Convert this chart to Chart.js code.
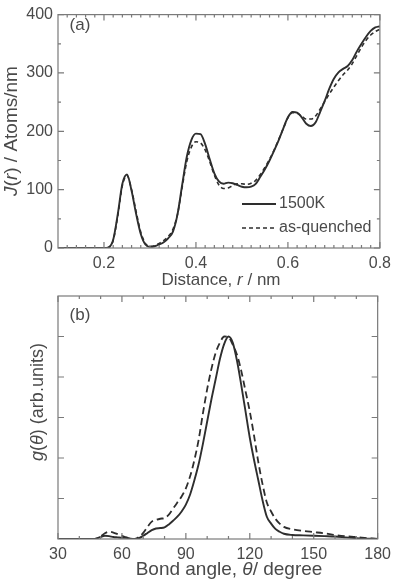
<!DOCTYPE html>
<html>
<head>
<meta charset="utf-8">
<script src="https://cdn.jsdelivr.net/npm/chart.js@4.4.1/dist/chart.umd.min.js"></script>
<style>
body { margin: 0; background: #fff; width: 397px; height: 581px; overflow: hidden; position: relative; }
#wa { position: absolute; left: 0; top: 0; width: 397px; height: 290px; }
#wb { position: absolute; left: 0; top: 290px; width: 397px; height: 291px; }
</style>
</head>
<body>
<div id="wa"><canvas id="ga"></canvas></div>
<div id="wb"><canvas id="gb"></canvas></div>
<script>
// panel (a): J(r)
const rVals = [0.10, 0.15, 0.20, 0.21, 0.22, 0.23, 0.24, 0.25, 0.26, 0.27, 0.28, 0.29, 0.30,
  0.31, 0.32, 0.33, 0.34, 0.35, 0.36, 0.37, 0.38, 0.39, 0.40, 0.41, 0.42, 0.43, 0.44, 0.45,
  0.46, 0.47, 0.48, 0.49, 0.50, 0.51, 0.52, 0.53, 0.54, 0.55, 0.56, 0.57, 0.58, 0.59, 0.60,
  0.61, 0.62, 0.63, 0.64, 0.65, 0.66, 0.67, 0.68, 0.69, 0.70, 0.71, 0.72, 0.73, 0.74, 0.75,
  0.76, 0.77, 0.78, 0.79, 0.80];
const j1500 = [0, 0, 0, 1, 14, 58, 110, 126, 98, 58, 24, 6, 2,
  3, 6, 10, 17, 28, 58, 108, 156, 185, 196, 195, 178, 152, 128, 114,
  110, 112, 111, 108, 105, 104, 105, 110, 122, 135, 150, 167, 185, 205, 224,
  233, 232, 224, 213, 209, 215, 233, 252, 273, 290, 301, 307, 312, 322, 337,
  350, 362, 372, 378, 380];
const jQuench = [0, 0, 0, 1, 13, 55, 107, 124, 100, 62, 27, 8, 3,
  4, 8, 13, 20, 32, 58, 104, 148, 173, 182, 180, 168, 148, 125, 108,
  102, 103, 107, 110, 110, 109, 111, 116, 126, 138, 152, 168, 186, 205, 223,
  232, 231, 226, 221, 221, 226, 238, 251, 264, 276, 287, 297, 305, 316, 330,
  344, 356, 365, 371, 375];
const rTicks = [0.2, 0.4, 0.6, 0.8];
const jTicks = [0, 100, 200, 300, 400];

// panel (b): g(theta)
const angVals = [30, 40, 46, 48, 50, 52, 54, 56, 58, 60, 62, 64, 66, 68, 70, 72, 74, 76, 78, 80,
  82, 84, 86, 88, 90, 92, 94, 96, 98, 100, 102, 104, 106, 108, 110, 112, 114, 116, 118, 120,
  122, 124, 126, 128, 130, 132, 134, 136, 140, 145, 150, 155, 160, 165, 170, 175, 180];
const g1500 = [0, 0, 0, 0.01, 0.05, 0.08, 0.07, 0.05, 0.04, 0.03, 0.03, 0.01, 0, 0.02, 0.08, 0.15, 0.22, 0.26, 0.27, 0.29,
  0.36, 0.45, 0.55, 0.68, 0.85, 1.1, 1.45, 1.85, 2.35, 2.9, 3.45, 3.95, 4.45, 4.82, 5.0, 4.85, 4.4, 3.8, 3.15, 2.5,
  1.95, 1.45, 0.95, 0.55, 0.38, 0.25, 0.18, 0.13, 0.1, 0.09, 0.08, 0.07, 0.06, 0.04, 0.02, 0.01, 0];
const gQuench = [0, 0, 0, 0.01, 0.06, 0.14, 0.18, 0.16, 0.12, 0.08, 0.04, 0.01, 0, 0.05, 0.15, 0.3, 0.43, 0.47, 0.5, 0.52,
  0.6, 0.75, 0.9, 1.05, 1.25, 1.55, 1.95, 2.45, 3.1, 3.7, 4.2, 4.6, 4.85, 5.0, 4.98, 4.8, 4.55, 4.15, 3.65, 3.15,
  2.55, 1.9, 1.35, 0.9, 0.68, 0.5, 0.38, 0.3, 0.24, 0.2, 0.17, 0.14, 0.1, 0.07, 0.05, 0.02, 0];
const angTicks = [30, 60, 90, 120, 150, 180];
const gMarks = [1, 2, 3, 4, 5];

const INK = '#2e2e2e';
const TXT = '#4a4a4a';
const FONT = '"Liberation Sans", Arial, sans-serif';

function pts(xs, ys) {
  return xs.map((x, i) => ({ x: x, y: ys[i] }));
}

function drawMixed(ctx, segs, cx, cy, size, angle) {
  ctx.save();
  ctx.translate(cx, cy);
  ctx.rotate(angle || 0);
  let w = 0;
  segs.forEach(s => {
    ctx.font = (s.i ? 'italic ' : '') + size + 'px ' + FONT;
    w += ctx.measureText(s.t).width;
  });
  let x = -w / 2;
  ctx.fillStyle = TXT;
  ctx.textBaseline = 'middle';
  ctx.textAlign = 'left';
  segs.forEach(s => {
    ctx.font = (s.i ? 'italic ' : '') + size + 'px ' + FONT;
    ctx.fillText(s.t, x, 0);
    x += ctx.measureText(s.t).width;
  });
  ctx.restore();
}

// box round the plot with inward ticks on all four sides
const framePlugin = {
  id: 'frame',
  afterDraw(chart, args, o) {
    const ctx = chart.ctx, a = chart.chartArea;
    const sx = chart.scales.x, sy = chart.scales.y;
    ctx.save();
    ctx.strokeStyle = '#7a7a7a';
    ctx.lineWidth = 1.2;
    ctx.strokeRect(a.left, a.top, a.right - a.left, a.bottom - a.top);
    ctx.beginPath();
    const xt = (v, len) => {
      const p = sx.getPixelForValue(v);
      ctx.moveTo(p, a.bottom); ctx.lineTo(p, a.bottom - len);
      ctx.moveTo(p, a.top); ctx.lineTo(p, a.top + len);
    };
    const yt = (v, len) => {
      const p = sy.getPixelForValue(v);
      ctx.moveTo(a.left, p); ctx.lineTo(a.left + len, p);
      ctx.moveTo(a.right, p); ctx.lineTo(a.right - len, p);
    };
    if (o.xMinor) {
      const n = Math.round((sx.max - sx.min) / o.xMinor);
      for (let k = 1; k < n; k++) xt(sx.min + k * o.xMinor, 3);
    }
    if (o.yMinor) {
      const n = Math.round((sy.max - sy.min) / o.yMinor);
      for (let k = 1; k < n; k++) yt(sy.min + k * o.yMinor, 3);
    }
    o.xMajor.forEach(v => xt(v, 6));
    o.yMajor.forEach(v => yt(v, 6));
    ctx.stroke();
    ctx.restore();
  }
};

const textPlugin = {
  id: 'texts',
  afterDraw(chart, args, o) {
    o.items.forEach(it => drawMixed(chart.ctx, it.segs, it.x, it.y, it.size, it.rot));
  }
};

const keyPlugin = {
  id: 'key',
  afterDraw(chart, args, o) {
    if (!o.show) return;
    const ctx = chart.ctx;
    ctx.save();
    chart.data.datasets.forEach((ds, i) => {
      const y = o.y + i * o.dy;
      ctx.strokeStyle = ds.borderColor;
      ctx.lineWidth = ds.borderWidth;
      ctx.setLineDash(ds.borderDash || []);
      ctx.beginPath();
      ctx.moveTo(o.x, y);
      ctx.lineTo(o.x + o.len, y);
      ctx.stroke();
      ctx.setLineDash([]);
      ctx.fillStyle = TXT;
      ctx.font = o.size + 'px ' + FONT;
      ctx.textBaseline = 'middle';
      ctx.fillText(ds.label, o.x + o.len + 3, y);
    });
    ctx.restore();
  }
};

Chart.register(framePlugin, textPlugin, keyPlugin);

function lineSet(label, data, dash, width) {
  return {
    label: label, data: data, borderColor: INK, borderWidth: width,
    borderDash: dash, pointRadius: 0, cubicInterpolationMode: 'monotone', fill: false
  };
}

new Chart(document.getElementById('ga'), {
  type: 'line',
  data: {
    datasets: [
      lineSet('1500K', pts(rVals, j1500), [], 1.9),
      lineSet('as-quenched', pts(rVals, jQuench), [4, 3], 1.6)
    ]
  },
  options: {
    responsive: true, maintainAspectRatio: false, animation: false,
    layout: { padding: { top: 6, right: 14, left: 0, bottom: 0 } },
    plugins: {
      legend: { display: false }, tooltip: { enabled: false },
      frame: { xMajor: rTicks, xMinor: 0.02, yMajor: jTicks, yMinor: 50 },
      key: { show: true, x: 242, y: 204, dy: 24, len: 34, size: 16 },
      texts: {
        items: [
          { segs: [{ t: 'J', i: true }, { t: '(' }, { t: 'r', i: true }, { t: ') / Atoms/nm' }], x: 12, y: 131, size: 19, rot: -Math.PI / 2 },
          { segs: [{ t: 'Distance, ' }, { t: 'r', i: true }, { t: ' / nm' }], x: 221, y: 280, size: 17 },
          { segs: [{ t: '(a)' }], x: 80, y: 25, size: 17 }
        ]
      }
    },
    scales: {
      x: {
        type: 'linear', min: 0.1, max: 0.8,
        grid: { display: false, drawTicks: false }, border: { display: false },
        afterBuildTicks: s => { s.ticks = rTicks.map(v => ({ value: v })); },
        afterFit: s => { s.height = 42; },
        ticks: { padding: 6, color: TXT, font: { family: FONT, size: 16 }, maxRotation: 0, autoSkip: false,
          callback: v => v.toFixed(1) }
      },
      y: {
        min: 0, max: 400,
        grid: { display: false, drawTicks: false }, border: { display: false },
        afterBuildTicks: s => { s.ticks = jTicks.map(v => ({ value: v })); },
        afterFit: s => { s.width = 58; },
        ticks: { padding: 5, color: TXT, font: { family: FONT, size: 16 } }
      }
    }
  }
});

new Chart(document.getElementById('gb'), {
  type: 'line',
  data: {
    datasets: [
      lineSet('1500K', pts(angVals, g1500), [], 1.9),
      lineSet('as-quenched', pts(angVals, gQuench), [7, 4], 1.8)
    ]
  },
  options: {
    responsive: true, maintainAspectRatio: false, animation: false,
    layout: { padding: { top: 6, right: 14, left: 0, bottom: 0 } },
    plugins: {
      legend: { display: false }, tooltip: { enabled: false },
      frame: { xMajor: angTicks, xMinor: 10, yMajor: gMarks },
      key: { show: false },
      texts: {
        items: [
          { segs: [{ t: 'g', i: true }, { t: '(' }, { t: 'θ', i: true }, { t: ') (arb.units)' }], x: 38, y: 112, size: 18, rot: -Math.PI / 2 },
          { segs: [{ t: 'Bond angle, ' }, { t: 'θ', i: true }, { t: '/ degree' }], x: 229, y: 280, size: 19 },
          { segs: [{ t: '(b)' }], x: 80, y: 25, size: 17 }
        ]
      }
    },
    scales: {
      x: {
        type: 'linear', min: 30, max: 180,
        grid: { display: false, drawTicks: false }, border: { display: false },
        afterBuildTicks: s => { s.ticks = angTicks.map(v => ({ value: v })); },
        afterFit: s => { s.height = 42; },
        ticks: { padding: 6, color: TXT, font: { family: FONT, size: 16 }, maxRotation: 0, autoSkip: false }
      },
      y: {
        min: 0, max: 6,
        grid: { display: false, drawTicks: false }, border: { display: false },
        afterFit: s => { s.width = 58; },
        ticks: { display: false }
      }
    }
  }
});
</script>
</body>
</html>
